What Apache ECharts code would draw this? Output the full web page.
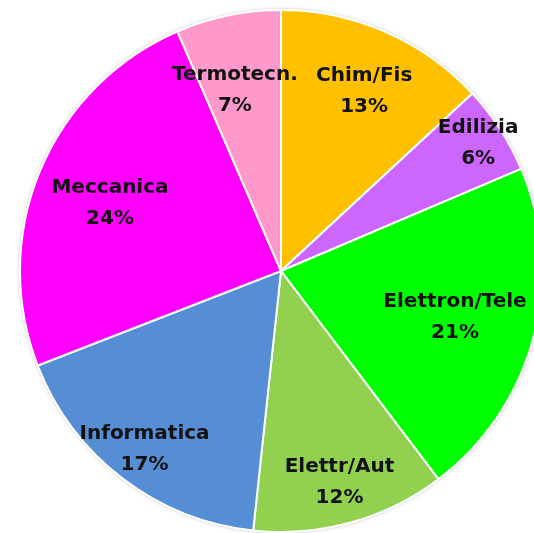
<!DOCTYPE html>
<html>
<head>
<meta charset="utf-8">
<script src="https://cdn.jsdelivr.net/npm/echarts@6/dist/echarts.min.js"></script>
<style>
  html, body { margin: 0; padding: 0; background: #fff; }
  #chart { width: 534px; height: 533px; }
</style>
</head>
<body>
<div id="chart"></div>
<script>
const categories = ['Chim/Fis', 'Edilizia', 'Elettron/Tele', 'Elettr/Aut', 'Informatica', 'Meccanica', 'Termotecn.']
const shares = [13.1, 5.5, 21.1, 12.0, 17.4, 24.4, 6.5]

const SLICE_COLORS = ['#FFC000', '#CC66FF', '#00FF00', '#92D050', '#558ED5', '#FF00FF', '#FF99CC']
// label placement: share of the radius, and a small turn (degrees, clockwise)
const LABEL_REACH = [0.76, 0.9, 0.69, 0.84, 0.86, 0.705, 0.715]
const LABEL_TURN = [1.2, 0, 0, 0, 0, -1, -2.6]

const CENTER = [281, 271]
const RADIUS = 261

const chart = echarts.init(document.getElementById('chart'))

chart.setOption({
  animation: false,
  series: [
    {
      // soft halo round the disc
      type: 'pie',
      center: CENTER,
      radius: RADIUS,
      silent: true,
      z: 1,
      data: [{ value: 1, itemStyle: { color: '#fff' } }],
      itemStyle: { shadowBlur: 4, shadowColor: 'rgba(0,0,0,0.3)' },
      label: { show: false },
      labelLine: { show: false },
    },
    {
      type: 'pie',
      center: CENTER,
      radius: RADIUS,
      startAngle: 90,
      clockwise: true,
      percentPrecision: 0,
      z: 2,
      data: categories.map((name, i) => ({
        name,
        value: shares[i],
        itemStyle: { color: SLICE_COLORS[i] },
      })),
      itemStyle: { borderColor: '#fff', borderWidth: 2 },
      label: {
        show: true,
        position: 'inside',
        formatter: '{b}\n{d}%',
        fontFamily: 'DejaVu Sans',
        fontWeight: 'bold',
        fontSize: 20,
        lineHeight: 31,
        color: '#111',
      },
      labelLine: { show: false },
      labelLayout: (params) => {
        const r = params.labelRect
        const dx = r.x + r.width / 2 - CENTER[0]
        const dy = r.y + r.height / 2 - CENTER[1]
        const turn = LABEL_TURN[params.dataIndex] * Math.PI / 180
        const ang = Math.atan2(dy, dx) + turn
        const reach = LABEL_REACH[params.dataIndex] * RADIUS
        return { x: CENTER[0] + Math.cos(ang) * reach, y: CENTER[1] + Math.sin(ang) * reach }
      },
      emphasis: { disabled: true },
    },
  ],
})
</script>
</body>
</html>
